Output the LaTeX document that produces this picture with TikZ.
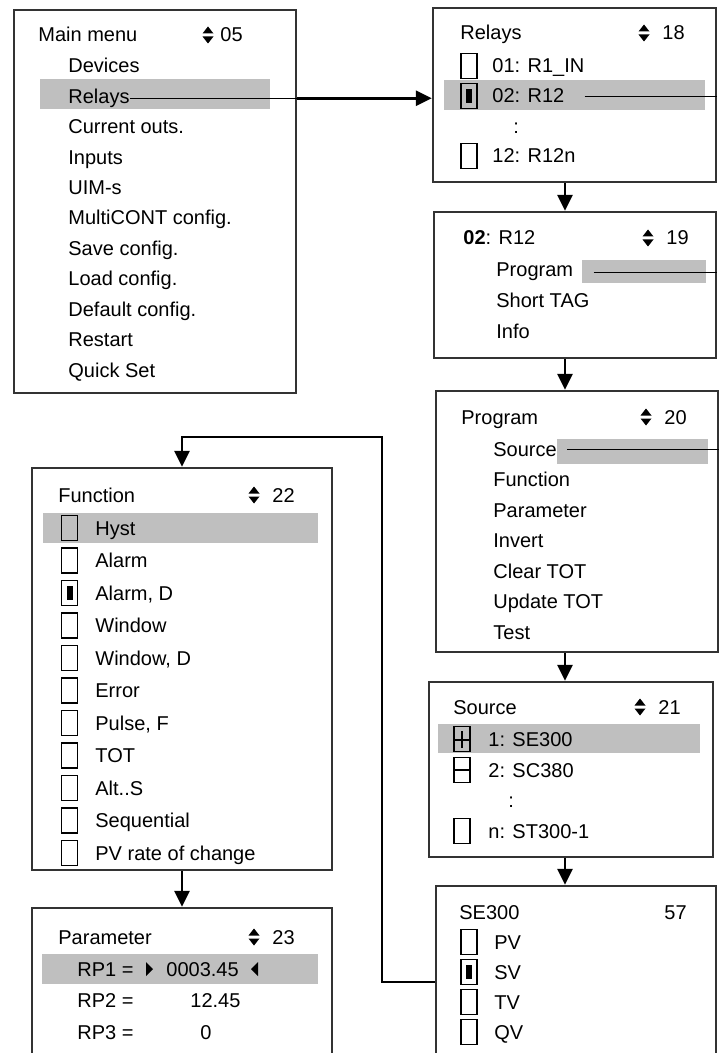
\documentclass[tikz,border=0pt]{standalone}
\usepackage{fontspec}
\setmainfont{Liberation Sans}
\usetikzlibrary{arrows.meta,fit}

\tikzset{
  menubox/.style={draw=black!80, line width=1.2pt, inner sep=0pt},
  hl/.style={fill=black!25},
  item/.style={anchor=base west, inner sep=0pt, font=\fontsize{10}{12}\selectfont},
  arr/.style={line width=1.4pt, -{Triangle[length=8pt,width=7.5pt]}},
  pointer/.style={line width=0.6pt},
  updown/.pic={
    \fill (-5.5,-1.5) -- (5.5,-1.5) -- (0,-8.5) -- cycle;
    \fill (-5.5,1.5) -- (5.5,1.5) -- (0,8.5) -- cycle;
  },
  chk/.pic={\draw[line width=0.9pt] (-8,-12.5) rectangle (8,12.5);},
  chkdot/.pic={\fill (-3,-7) rectangle (3,7);},
  chkplus/.pic={
    \draw[line width=0.9pt] (-8,-12.5) rectangle (8,12.5);
    \draw[line width=0.9pt] (-8,1) -- (8,1) (0,-8) -- (0,9);
  },
  chkminus/.pic={
    \draw[line width=0.9pt] (-8,-12.5) rectangle (8,12.5);
    \draw[line width=0.9pt] (-8,0) -- (8,0);
  }
}

\begin{document}
\begin{tikzpicture}[x=0.5pt,y=-0.5pt]
\clip (0,0) rectangle (720,1053);

% Main menu
\fill[hl] (40,79) rectangle (270,109);
\node[menubox, fit={(14,10) (296,393)}] (mainmenu) {};
\node[item] (mm-title) at (38,42) {Main menu};
\pic at (208,35) {updown};
\node[item] at (220,42) {05};
\foreach \txt [count=\i] in {Devices,Relays,Current outs.,Inputs,UIM-s,MultiCONT config.,Save config.,Load config.,Default config.,Restart,Quick Set}
  \node[item] (mm-\i) at (68,{73+30.4*(\i-1)}) {\txt};
\draw[pointer] (mm-2.east) -- (mainmenu.east |- mm-2.east);

% Relays
\fill[hl] (444,80) rectangle (705,110);
\node[menubox, fit={(433,8) (716,182)}] (relays) {};
\node[item] at (460,40) {Relays};
\pic at (644,33) {updown};
\node[item] at (662,40) {18};
\pic at (469,66) {chk};
\node[item] (rl-1) at (492,73) {01: R1\_IN};
\pic at (469,96) {chk};
\pic at (469,96) {chkdot};
\node[item] (rl-2) at (492,103) {02: R12};
\node[item] at (513,134) {:};
\pic at (469,156) {chk};
\node[item] (rl-3) at (492,163) {12: R12n};
\draw[pointer] ([xshift=10pt]rl-2.east) -- (relays.east |- rl-2.east);

% 02: R12
\fill[hl] (582,260) rectangle (706,283);
\node[menubox, fit={(434,212) (716,358)}] (r12menu) {};
\node[item] at (463,245) {\textbf{02}: R12};
\pic at (648,238) {updown};
\node[item] at (666,245) {19};
\foreach \txt [count=\i] in {Program,Short TAG,Info}
  \node[item] (rm-\i) at (496,{277+30.5*(\i-1)}) {\txt};
\draw[pointer] ([xshift=10pt]rm-1.east) -- (r12menu.east |- rm-1.east);

% Program
\fill[hl] (557,439) rectangle (708,464);
\node[menubox, fit={(436,391) (718,652)}] (program) {};
\node[item] at (461,424) {Program};
\pic at (646,417) {updown};
\node[item] at (664,424) {20};
\foreach \txt [count=\i] in {Source,Function,Parameter,Invert,Clear TOT,Update TOT,Test}
  \node[item] (pg-\i) at (493,{456+30.5*(\i-1)}) {\txt};
\draw[pointer] ([xshift=5pt]pg-1.east) -- (program.east |- pg-1.east);

% Source
\fill[hl] (438,724) rectangle (700,753);
\node[menubox, fit={(429,682) (713,857)}] (source) {};
\node[item] at (453,714) {Source};
\pic at (640,707) {updown};
\node[item] at (658,714) {21};
\pic at (462,739) {chkplus};
\node[item] (src-1) at (488,746) {1: SE300};
\pic at (462,770) {chkminus};
\node[item] (src-2) at (488,777) {2: SC380};
\node[item] at (508,807) {:};
\pic at (462,831) {chk};
\node[item] (src-3) at (488,838) {n: ST300-1};

% SE300
\node[menubox, fit={(436,886) (716,1080)}] (se300) {};
\node[item] at (459,919) {SE300};
\node[item] at (664,919) {57};
\foreach \txt [count=\i] in {PV,SV,TV,QV} {
  \pic at (469,{942+30*(\i-1)}) {chk};
  \node[item] (sv-\i) at (494,{949+30*(\i-1)}) {\txt};
}
\pic at (469,972) {chkdot};

% Function
\fill[hl] (43,513) rectangle (318,543);
\node[menubox, fit={(32,468) (332,870)}] (function) {};
\node[item] at (58,502) {Function};
\pic at (254,495) {updown};
\node[item] at (272,502) {22};
\foreach \txt [count=\i] in {Hyst,Alarm,{Alarm, D},Window,{Window, D},Error,{Pulse, F},TOT,Alt..S,Sequential,PV rate of change} {
  \pic at (69.5,{528+32.5*(\i-1)}) {chk};
  \node[item] (fn-\i) at (95,{535+32.5*(\i-1)}) {\txt};
}
\pic at (69.5,593) {chkdot};

% Parameter
\fill[hl] (42,954) rectangle (318,984);
\node[menubox, fit={(32,908) (332,1080)}] (parameter) {};
\node[item] at (58,944) {Parameter};
\pic at (254,937) {updown};
\node[item] at (272,944) {23};
\node[item] (rp-1) at (77,976) {RP1 =};
\fill (146,962) -- (153,969) -- (146,976) -- cycle;
\node[item] (val-1) at (166,976) {0003.45};
\fill (258,962) -- (251,969) -- (258,976) -- cycle;
\node[item] (rp-2) at (77,1007) {RP2 =};
\node[item] (val-2) at (190,1007) {12.45};
\node[item] (rp-3) at (77,1039) {RP3 =};
\node[item] (val-3) at (200,1039) {0};

% arrows between the screens
\coordinate (col) at (565,0);
\coordinate (loopy) at (0,982);
\coordinate (bend) at (382,437);
\draw[arr] (mainmenu.east |- mm-2.east) -- (relays.west |- mm-2.east);
\draw[arr] (relays.south -| col) -- (r12menu.north -| col);
\draw[arr] (r12menu.south -| col) -- (program.north -| col);
\draw[arr] (program.south -| col) -- (source.north -| col);
\draw[arr] (source.south -| col) -- (se300.north -| col);
\draw[arr] (se300.west |- loopy) -| (bend) -| (function.north);
\draw[arr] (function.south) -- (parameter.north);
\end{tikzpicture}
\end{document}
